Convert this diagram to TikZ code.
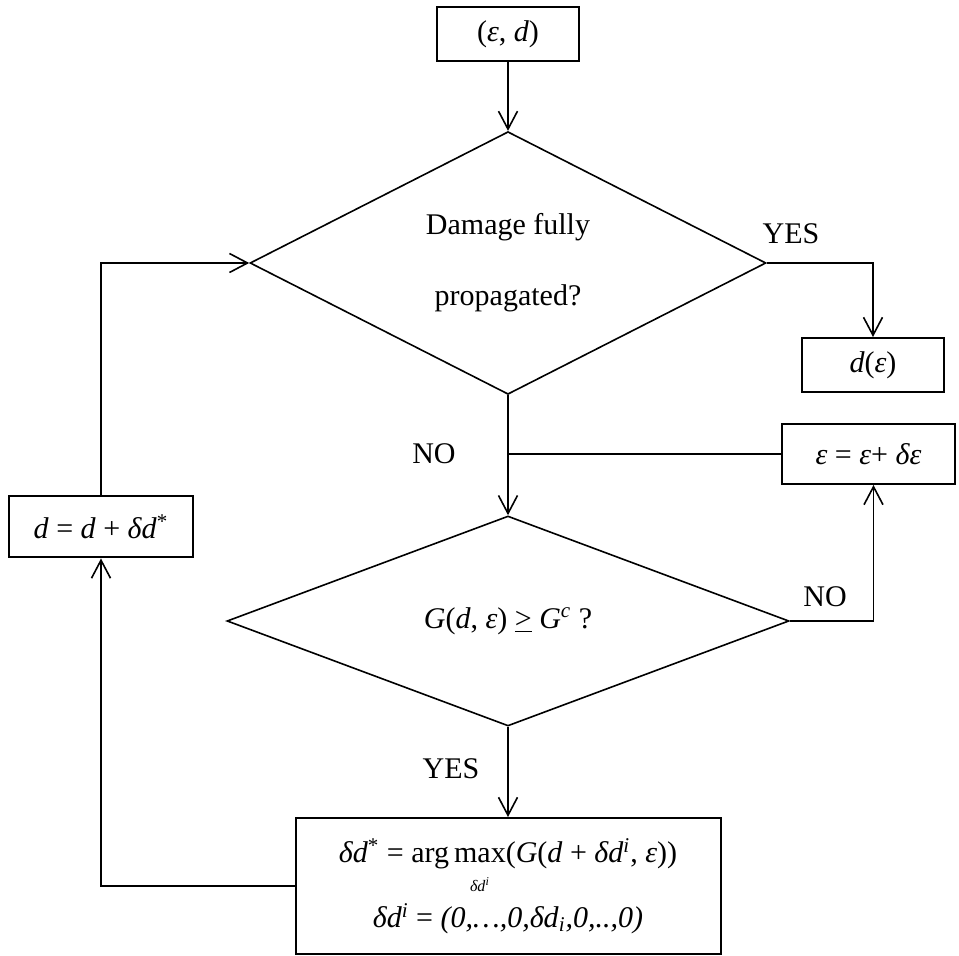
\documentclass[tikz,border=0pt]{standalone}
\usepackage{fontspec}
\setmainfont{Liberation Serif}
\usetikzlibrary{arrows.meta, shapes.geometric}

\begin{document}
\begin{tikzpicture}[x=0.5pt, y=-0.5pt,
    every node/.style={font=\fontsize{15}{18}\selectfont},
    box/.style={draw, line width=1pt, rectangle, inner sep=0pt, align=center},
    test/.style={draw, line width=0.8pt, diamond, inner sep=0pt, align=center},
    lbl/.style={inner sep=0pt},
    flow/.style={line width=0.8pt, -{Straight Barb[length=9pt, width=9.5pt]}},
    link/.style={line width=0.8pt}]
    \useasboundingbox (0,0) rectangle (959,956);

    % Start and first test
    \node[box, minimum width=71pt, minimum height=27pt] (start) at (508,34) {(\textit{ε}, \textit{d})};
    \node[test, minimum width=258pt, minimum height=125.5pt] (full) at (508,263) {Damage fully\\[17.5pt]propagated?};
    \node[box, minimum width=71pt, minimum height=27pt] (result) at (873,365) {\textit{d}(\textit{ε})};

    % Load increment
    \node[box, minimum width=86.5pt, minimum height=30pt] (incr) at (868.5,454) {\textit{ε} = \textit{ε}+ \textit{δε}};

    % Energy criterion
    \node[test, minimum width=281pt, minimum height=105pt] (crit) at (508,621) {\textit{G}(\textit{d}, \textit{ε}) \underline{>} \textit{G}\textsuperscript{\textit{c}} ?};

    % Damage update
    \node[box, minimum width=92pt, minimum height=30.5pt] (update) at (101,527) {\textit{d} = \textit{d} + \textit{δd}\textsuperscript{*}};
    \node[box, minimum width=212.5pt, minimum height=68pt] (search) at (508,886)
        {\textit{δd}\textsuperscript{*} = arg\,\smash{\begin{tabular}[t]{@{}c@{}}max\\[-3.5pt]{\fontsize{8}{9}\selectfont\textit{δd}\textsuperscript{\textit{i}}}\end{tabular}}(\textit{G}(\textit{d} + \textit{δd}\textsuperscript{\textit{i}}, \textit{ε}))\\[14.5pt]
         \textit{δd}\textsuperscript{\textit{i}} = \textit{(0,…,0,δd}\textsubscript{\textit{i}}\textit{,0,..,0)}};

    % Labels
    \node[lbl] (yes1) at (791,234) {YES};
    \node[lbl] (no1) at (434,454) {NO};
    \node[lbl] (no2) at (825,597) {NO};
    \node[lbl] (yes2) at (451,769) {YES};

    % Connectors
    \draw[flow] (start) -- (full);
    \draw[flow] (full.east) -| (result.north);
    \draw[flow] (full.south) -- (crit.north);
    \draw[link] (incr.west) -- (incr.west -| full.south);
    \draw[flow] (crit.east) -| ([xshift=2.5pt]incr.south);
    \draw[flow] (crit.south) -- (search.north);
    \draw[flow] (search.west) -| (update.south);
    \draw[flow] (update.north) |- (full.west);
\end{tikzpicture}
\end{document}
